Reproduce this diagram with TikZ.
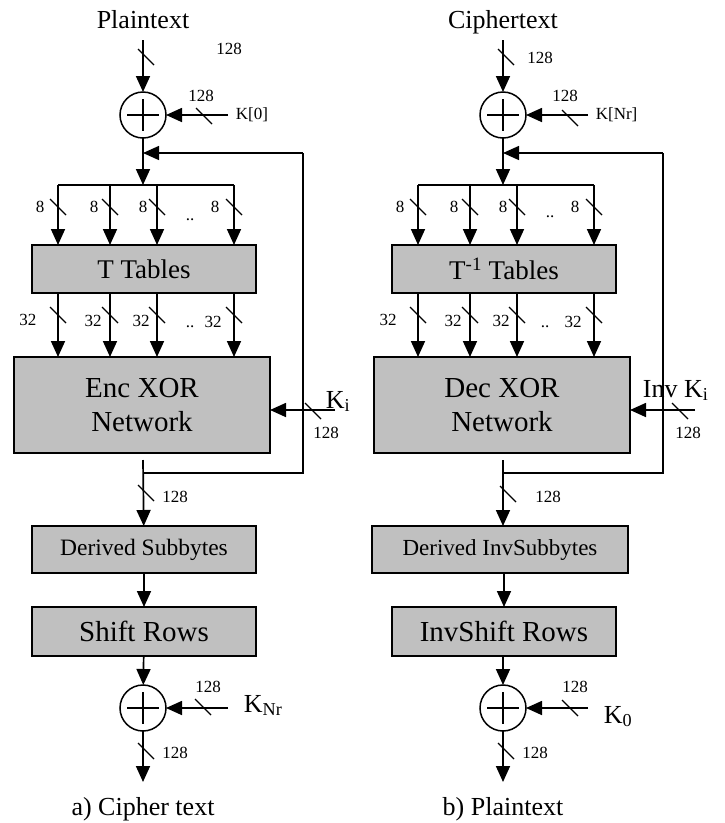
\documentclass[tikz,border=0pt]{standalone}
\usepackage{fontspec}
\setmainfont{Liberation Serif}
\usetikzlibrary{arrows.meta}
\definecolor{boxgray}{RGB}{192,192,192}
\begin{document}
\begin{tikzpicture}[x=1pt,y=-1pt,
  line width=1.7pt,
  arr/.style={-{Triangle[length=16pt,width=14pt]}},
  blk/.style={draw, fill=boxgray, line width=1.8pt, inner sep=0pt, outer sep=0pt, align=center},
  xorc/.style={draw, circle, minimum size=46pt, inner sep=0pt, outer sep=0pt, line width=1.5pt},
  sm/.style={font=\fontsize{17}{20}\selectfont, inner sep=0pt},
  big/.style={font=\fontsize{26}{30}\selectfont, inner sep=0pt},
  bus/.style={line width=1.3pt},
]
\useasboundingbox (0,0) rectangle (725,823);

%%%%%%%%%%%%%%%% LEFT: cipher %%%%%%%%%%%%%%%%
\node[big, anchor=base] (ttlA) at (143,28) {Plaintext};
\coordinate (inA) at (143,40);
\node[xorc] (x1A) at (143,115) {};
\draw[line width=1.5pt] (x1A.center) +(-16,0) -- +(16,0) (x1A.center) +(0,-16) -- +(0,16);
\draw[arr] (inA) -- (x1A);
\draw[bus] (146,57) +(-8,-8) -- +(8,8);
\node[sm] (t128A) at (229,49) {128};
\coordinate (k0A) at (228,115);
\draw[arr] (k0A) -- (x1A);
\draw[bus] (204,116) +(-8,-8) -- +(8,8);
\node[sm] (k128A) at (201,96) {128};
\node[sm, anchor=west] (k0lA) at (235,115) {K[0]};

\coordinate (jA) at (143,153);
\coordinate (barA) at (143,185);
\draw (x1A) -- (jA);
\draw[arr] (jA) -- (barA);
\foreach \x/\n in {58/1,110/2,157/3,234/4} \coordinate (bA\n) at (\x,185);
\draw (bA1) -- (bA4);

\node[blk, minimum width=224pt, minimum height=48pt, font=\fontsize{27}{30}\selectfont] (ttA) at (144,269) {T Tables};
\node[blk, minimum width=256pt, minimum height=96pt, font=\fontsize{29}{34}\selectfont] (encA) at (142,405) {Enc XOR\\Network};
\node[blk, minimum width=224pt, minimum height=47pt, font=\fontsize{23.5}{28}\selectfont] (dsA) at (144,549.5) {Derived Subbytes};
\node[blk, minimum width=224pt, minimum height=49pt, font=\fontsize{29}{34}\selectfont] (srA) at (144,631.5) {Shift Rows};

\foreach \n in {1,...,4} {
  \draw[arr] (bA\n) -- (bA\n |- ttA.north);
  \draw[arr] (ttA.south -| bA\n) -- (encA.north -| bA\n);
}
\foreach \x in {58,110,157,234} {
  \draw[bus] (\x,207) +(-8,-8) -- +(8,8);
  \draw[bus] (\x,315) +(-8,-8) -- +(8,8);
}
\node[sm] (e1A) at (40,207) {8};
\node[sm] (e2A) at (94,207) {8};
\node[sm] (e3A) at (143,207) {8};
\node[sm] (e4A) at (215,207) {8};
\node[sm] (ddA) at (190,220) {..};
\node[sm] (s1A) at (28,320) {32};
\node[sm] (s2A) at (93,321) {32};
\node[sm] (s3A) at (141,321) {32};
\node[sm] (s4A) at (213,322) {32};
\node[sm] (dd2A) at (190,327) {..};

% round key
\coordinate (kiA) at (335,410);
\draw[arr] (kiA) -- (kiA -| encA.east);
\draw[bus] (313,411) +(-8,-8) -- +(8,8);
\node[big, anchor=base west] (kilA) at (325,408) {K\textsubscript{i}};
\node[sm] (ki128A) at (326,433) {128};

% feedback
\coordinate (eoA) at (143,460);
\coordinate (fbA0) at (143,473);
\coordinate (fbA1) at (303,473);
\coordinate (fbA2) at (303,153);
\draw[line width=1.4pt] (fbA0) -- (fbA1) -- (fbA2);
\draw[arr, line width=1.4pt] (fbA2) -- (jA);
\draw[arr] (eoA) -- (dsA);
\draw[bus] (146,493) +(-8,-8) -- +(8,8);
\node[sm] (o128A) at (175,497) {128};
\draw[arr] (dsA) -- (srA);

\node[xorc] (x2A) at (143,708) {};
\draw[line width=1.5pt] (x2A.center) +(-16,0) -- +(16,0) (x2A.center) +(0,-16) -- +(0,16);
\draw[arr] (srA) -- (x2A);
\coordinate (knA) at (228,708);
\draw[arr] (knA) -- (x2A);
\draw[bus] (203,707) +(-8,-8) -- +(8,8);
\node[sm] (kn128A) at (208,687) {128};
\node[big, anchor=base west] (knlA) at (243,712) {K\textsubscript{Nr}};
\coordinate (outA) at (143,782);
\draw[arr] (x2A) -- (outA);
\draw[bus] (146,751) +(-8,-8) -- +(8,8);
\node[sm] (out128A) at (175,753) {128};
\node[big, anchor=base] (capA) at (143,815) {a) Cipher text};

%%%%%%%%%%%%%%%% RIGHT: decipher %%%%%%%%%%%%%%%%
\node[big, anchor=base] (ttlB) at (503,28) {Ciphertext};
\coordinate (inB) at (503,40);
\node[xorc] (x1B) at (503,115) {};
\draw[line width=1.5pt] (x1B.center) +(-16,0) -- +(16,0) (x1B.center) +(0,-16) -- +(0,16);
\draw[arr] (inB) -- (x1B);
\draw[bus] (506,57) +(-8,-8) -- +(8,8);
\node[sm] (t128B) at (540,58) {128};
\coordinate (k0B) at (588,115);
\draw[arr] (k0B) -- (x1B);
\draw[bus] (570,118) +(-8,-8) -- +(8,8);
\node[sm] (k128B) at (565,96) {128};
\node[sm, anchor=west] (k0lB) at (595,115) {K[Nr]};

\coordinate (jB) at (503,153);
\coordinate (barB) at (503,185);
\draw (x1B) -- (jB);
\draw[arr] (jB) -- (barB);
\foreach \x/\n in {418/1,470/2,517/3,594/4} \coordinate (bB\n) at (\x,185);
\draw (bB1) -- (bB4);

\node[blk, minimum width=224pt, minimum height=48pt, font=\fontsize{27}{30}\selectfont] (ttB) at (504,269) {T\textsuperscript{-1} Tables};
\node[blk, minimum width=256pt, minimum height=96pt, font=\fontsize{29}{34}\selectfont] (encB) at (502,405) {Dec XOR\\Network};
\node[blk, minimum width=256pt, minimum height=47pt, font=\fontsize{23}{28}\selectfont] (dsB) at (500,549.5) {Derived InvSubbytes};
\node[blk, minimum width=224pt, minimum height=49pt, font=\fontsize{29}{34}\selectfont] (srB) at (504,631.5) {InvShift Rows};

\foreach \n in {1,...,4} {
  \draw[arr] (bB\n) -- (bB\n |- ttB.north);
  \draw[arr] (ttB.south -| bB\n) -- (encB.north -| bB\n);
}
\foreach \x in {418,470,517,594} {
  \draw[bus] (\x,207) +(-8,-8) -- +(8,8);
  \draw[bus] (\x,315) +(-8,-8) -- +(8,8);
}
\node[sm] (e1B) at (400,207) {8};
\node[sm] (e2B) at (454,207) {8};
\node[sm] (e3B) at (503,207) {8};
\node[sm] (e4B) at (575,207) {8};
\node[sm] (ddB) at (550,217) {..};
\node[sm] (s1B) at (388,320) {32};
\node[sm] (s2B) at (453,321) {32};
\node[sm] (s3B) at (501,321) {32};
\node[sm] (s4B) at (573,322) {32};
\node[sm] (dd2B) at (545,327) {..};

\coordinate (kiB) at (695,410);
\draw[arr] (kiB) -- (kiB -| encB.east);
\draw[bus] (680,411) +(-8,-8) -- +(8,8);
\node[big, anchor=base west] (kilB) at (642,397) {Inv K\textsubscript{i}};
\node[sm] (ki128B) at (688,433) {128};

\coordinate (eoB) at (503,460);
\coordinate (fbB0) at (503,473);
\coordinate (fbB1) at (663,473);
\coordinate (fbB2) at (663,153);
\draw[line width=1.4pt] (fbB0) -- (fbB1) -- (fbB2);
\draw[arr, line width=1.4pt] (fbB2) -- (jB);
\draw[arr] (eoB) -- (eoB |- dsB.north);
\draw[bus] (508,494) +(-8,-8) -- +(8,8);
\node[sm] (o128B) at (548,497) {128};
\draw[arr] (dsB.south -| srB) -- (srB);

\node[xorc] (x2B) at (503,708) {};
\draw[line width=1.5pt] (x2B.center) +(-16,0) -- +(16,0) (x2B.center) +(0,-16) -- +(0,16);
\draw[arr] (srB.south -| x2B) -- (x2B);
\coordinate (knB) at (588,708);
\draw[arr] (knB) -- (x2B);
\draw[bus] (570,708) +(-8,-8) -- +(8,8);
\node[sm] (kn128B) at (575,687) {128};
\node[big, anchor=base west] (knlB) at (603,723) {K\textsubscript{0}};
\coordinate (outB) at (503,782);
\draw[arr] (x2B) -- (outB);
\draw[bus] (506,751) +(-8,-8) -- +(8,8);
\node[sm] (out128B) at (535,753) {128};
\node[big, anchor=base] (capB) at (503,815) {b) Plaintext};
\end{tikzpicture}
\end{document}
